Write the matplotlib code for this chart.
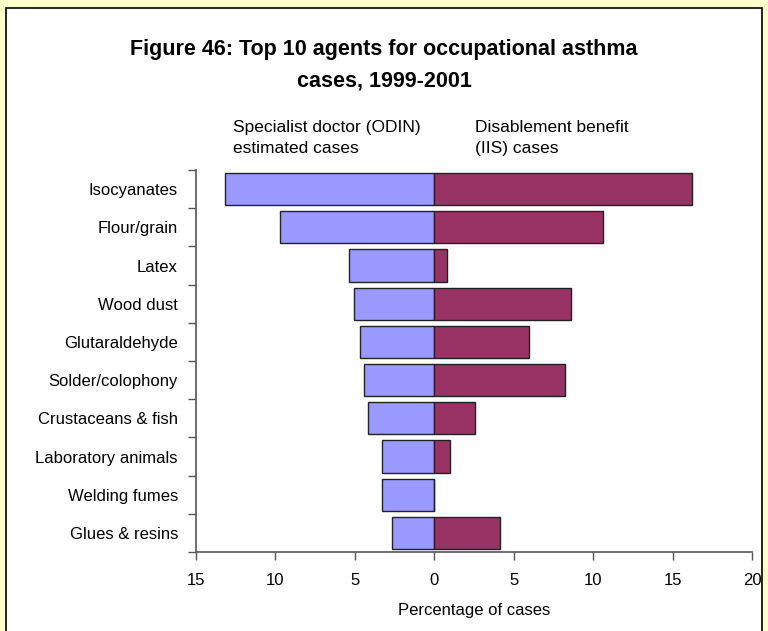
import matplotlib
matplotlib.use('Agg')
import matplotlib.pyplot as plt
from matplotlib.patches import Rectangle
import numpy as np

plt.rcParams['font.family'] = ['Liberation Sans', 'DejaVu Sans']

agents = ['Isocyanates', 'Flour/grain', 'Latex', 'Wood dust', 'Glutaraldehyde',
          'Solder/colophony', 'Crustaceans & fish', 'Laboratory animals',
          'Welding fumes', 'Glues & resins']
odin = [13.2, 9.7, 5.4, 5.05, 4.65, 4.45, 4.15, 3.3, 3.3, 2.65]
iis = [16.2, 10.6, 0.8, 8.6, 5.95, 8.2, 2.55, 1.0, 0.0, 4.15]
x_ticks = [-15, -10, -5, 0, 5, 10, 15, 20]
x_labels = ['15', '10', '5', '0', '5', '10', '15', '20']

fig = plt.figure(figsize=(7.68, 6.31), dpi=100, facecolor='#FFFFCC')
# white chart area with black frame
fig.patches.append(Rectangle((6 / 768, -0.05), 756 / 768, 1.05 - 8 / 631,
                             transform=fig.transFigure, facecolor='white',
                             edgecolor='black', linewidth=1.2, zorder=-10))

ax = fig.add_axes([196 / 768, 1 - 552 / 631, 556 / 768, 382 / 631])
ax.set_zorder(5)
ax.set_facecolor('white')

y = np.arange(len(agents))
ax.barh(y, [-v for v in odin], height=0.84, color='#9999FF', edgecolor='#222222', linewidth=1)
ax.barh(y, iis, height=0.84, color='#993366', edgecolor='#222222', linewidth=1)

ax.set_xlim(-15, 20)
ax.set_ylim(len(agents) - 0.5, -0.5)
ax.set_xticks(x_ticks)
ax.set_xticklabels(x_labels, fontsize=12)

# category labels between boundary ticks
ax.set_yticks(np.arange(len(agents) + 1) - 0.5)
ax.set_yticklabels([])
ax.set_yticks(y, minor=True)
ax.set_yticklabels(agents, minor=True, fontsize=12)
ax.tick_params(axis='y', which='minor', length=0, pad=13)
ax.tick_params(axis='y', which='major', length=6, width=1, color='#555555')
ax.tick_params(axis='x', length=6, width=1, color='#555555', pad=9)

for s in ['top', 'right']:
    ax.spines[s].set_visible(False)
for s in ['left', 'bottom']:
    ax.spines[s].set_color('#555555')
    ax.spines[s].set_linewidth(1.2)

ax.set_xlabel('Percentage of cases', fontsize=12, labelpad=11)

fig.text(0.5, 1 - 49 / 631, 'Figure 46: Top 10 agents for occupational asthma',
         ha='center', va='center', fontsize=15.5, fontweight='bold')
fig.text(0.5, 1 - 81 / 631, 'cases, 1999-2001',
         ha='center', va='center', fontsize=15.5, fontweight='bold')
fig.text(233 / 768, 1 - 138 / 631, 'Specialist doctor (ODIN)\nestimated cases',
         ha='left', va='center', fontsize=12.5, linespacing=1.45)
fig.text(475 / 768, 1 - 138 / 631, 'Disablement benefit\n(IIS) cases',
         ha='left', va='center', fontsize=12.5, linespacing=1.45)

fig.savefig('out.png', dpi=100, facecolor=fig.get_facecolor())
